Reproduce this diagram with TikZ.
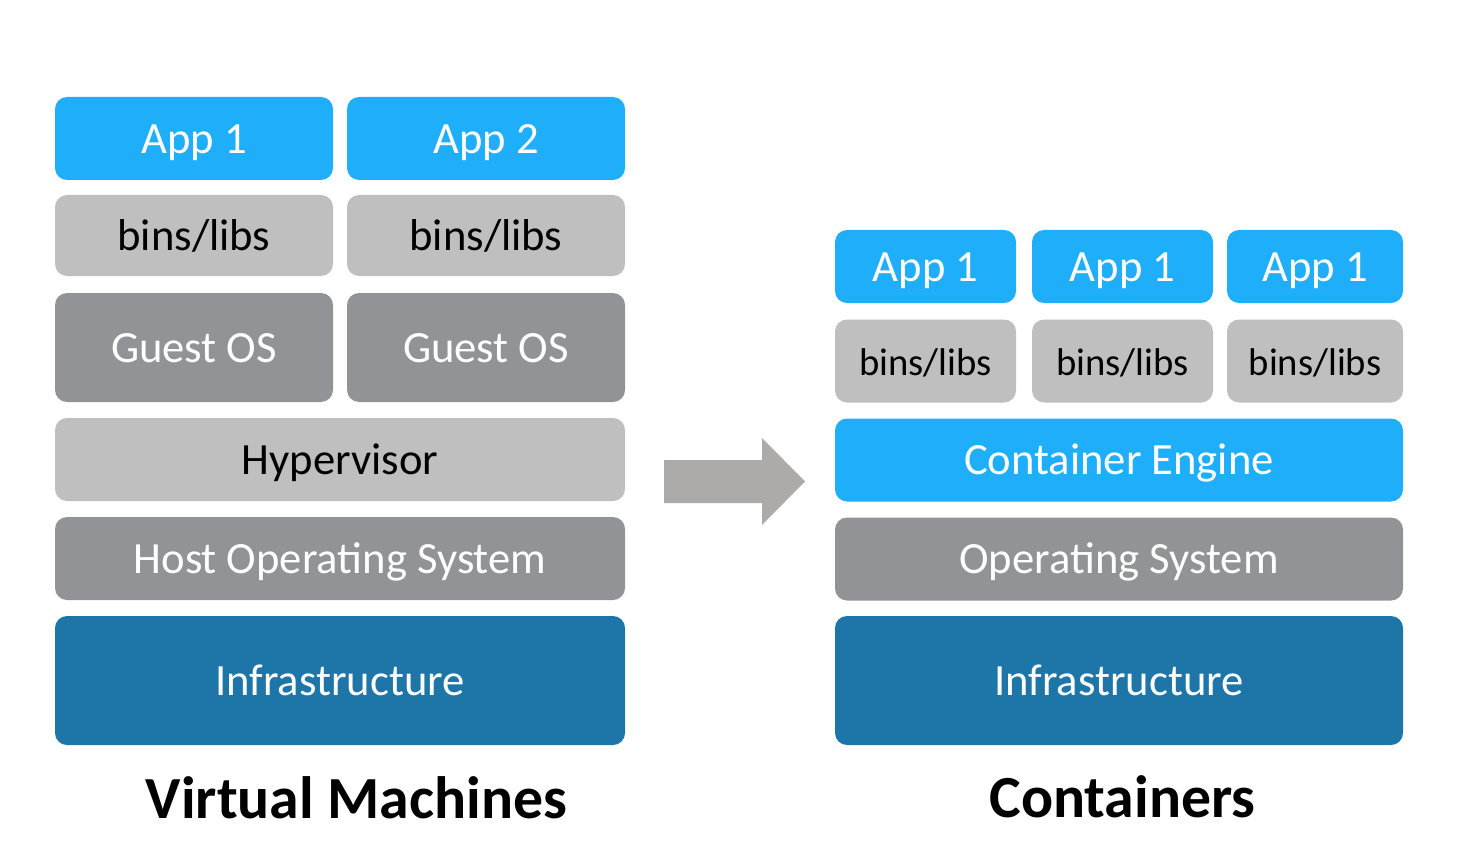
\documentclass[tikz,border=0pt]{standalone}
\usepackage{fontspec}
\setmainfont{Carlito}
\usepackage{tikz}
\usepackage{xcolor}
\definecolor{appblue}{RGB}{31,174,250}
\definecolor{binsgray}{RGB}{191,191,191}
\definecolor{osgray}{RGB}{146,147,150}
\definecolor{infrablue}{RGB}{30,118,168}
\definecolor{arrowgray}{RGB}{173,170,170}

\begin{document}
\begin{tikzpicture}[
	layer/.style={rectangle, rounded corners=0.12cm, inner sep=0pt, align=center, text height=0.83em, text depth=0pt, font=\fontsize{12.7}{15}\selectfont},
	app/.style={layer, fill=appblue, text=white},
	bins/.style={layer, fill=binsgray, text=black},
	guest/.style={layer, fill=osgray, text=white},
	infra/.style={layer, fill=infrablue, text=white},
	caption/.style={anchor=base, font=\fontsize{17}{20}\selectfont\bfseries}
]
	\useasboundingbox (0,0) rectangle (14.84,-8.46);
	\pgfmathsetmacro{\halfW}{2.78}
	\pgfmathsetmacro{\fullW}{5.70}

	% Virtual machines stack
\node[app, minimum width=\halfW cm, minimum height=0.83cm] (vmapp1) at (1.94,-1.385) {App 1};
\node[app, minimum width=\halfW cm, minimum height=0.83cm] (vmapp2) at (4.86,-1.385) {App 2};
\node[bins, minimum width=\halfW cm, minimum height=0.81cm] (vmbins1) at (1.94,-2.355) {bins/libs};
\node[bins, minimum width=\halfW cm, minimum height=0.81cm] (vmbins2) at (4.86,-2.355) {bins/libs};
\node[guest, minimum width=\halfW cm, minimum height=1.09cm] (guest1) at (1.94,-3.475) {Guest OS};
\node[guest, minimum width=\halfW cm, minimum height=1.09cm] (guest2) at (4.86,-3.475) {Guest OS};
\node[bins, minimum width=\fullW cm, minimum height=0.83cm] (hyper) at (3.40,-4.595) {Hypervisor};
\node[guest, minimum width=\fullW cm, minimum height=0.83cm] (hostos) at (3.40,-5.585) {Host Operating System};
\node[infra, minimum width=\fullW cm, minimum height=1.29cm] (vminfra) at (3.40,-6.805) {Infrastructure};
\node[caption] (vmlabel) at (3.565,-8.18) {Virtual Machines};

	% Arrow
\fill[arrowgray] (6.64,-4.60) -- (7.62,-4.60) -- (7.62,-4.38) -- (8.05,-4.815) -- (7.62,-5.25) -- (7.62,-5.03) -- (6.64,-5.03) -- cycle;

	% Containers stack
\foreach \x/\w [count=\i] in {9.255/1.81, 11.225/1.81, 13.15/1.76} {
	\node[app, minimum width=\w cm, minimum height=0.73cm] (capp\i) at (\x,-2.665) {App 1};
	\node[bins, minimum width=\w cm, minimum height=0.83cm, font=\fontsize{11}{13}\selectfont] (cbins\i) at (\x,-3.61) {bins/libs};
}
\node[app, minimum width=5.68cm, minimum height=0.83cm] (engine) at (11.19,-4.60) {Container Engine};
\node[guest, minimum width=5.68cm, minimum height=0.83cm] (cos) at (11.19,-5.59) {Operating System};
\node[infra, minimum width=5.68cm, minimum height=1.29cm] (cinfra) at (11.19,-6.805) {Infrastructure};
\node[caption] (clabel) at (11.225,-8.17) {Containers};
\end{tikzpicture}
\end{document}
